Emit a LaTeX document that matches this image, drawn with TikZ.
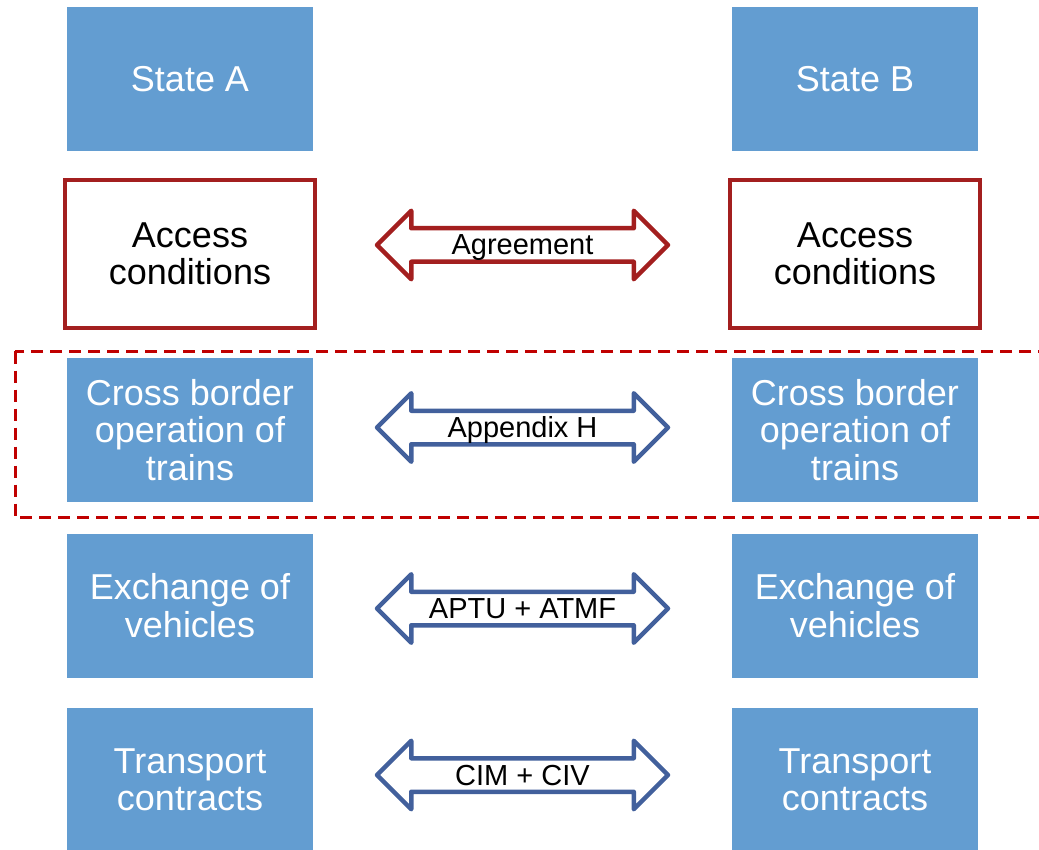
\documentclass[tikz,border=0pt]{standalone}
\usepackage{fontspec}
\setmainfont{Liberation Sans}
\usetikzlibrary{shapes.arrows}

\definecolor{boxblue}{RGB}{99,157,209}
\definecolor{boxred}{RGB}{163,31,31}
\definecolor{arrowblue}{RGB}{66,96,156}
\definecolor{dashred}{RGB}{192,0,0}

\begin{document}
\begin{tikzpicture}[x=1pt, y=-1pt,
	bluebox/.style={fill=boxblue, text=white, align=center, inner sep=0pt,
		minimum width=246pt, minimum height=144pt, font=\fontsize{36}{37.5}\selectfont},
	redbox/.style={draw=boxred, line width=4pt, fill=white, text=black, align=center, inner sep=0pt,
		minimum width=250pt, minimum height=148pt, font=\fontsize{36}{37.5}\selectfont},
	link/.style={double arrow, line width=4.5pt, line join=round, fill=white,
		minimum height=291pt, double arrow head extend=17.5pt, double arrow tip angle=90,
		inner xsep=0pt, inner ysep=0pt, text height=24.5pt, text depth=4.5pt,
		font=\fontsize{29}{30}\selectfont}
]

	\clip (0, 0) rectangle (1039, 850);
	
	\def\xa{190} % colonne gauche
	\def\xb{855} % colonne droite
	\def\xm{522.5} % milieu des fleches
	
	\foreach \s/\x in {A/\xa, B/\xb} {
		\node[bluebox] (state\s) at (\x, 79) {State \s};
		\node[redbox] (access\s) at (\x, 254) {Access\\conditions};
		\node[bluebox] (cross\s) at (\x, 430) {Cross border\\operation of\\trains};
		\node[bluebox] (exchange\s) at (\x, 605.5) {Exchange of\\vehicles};
		\node[bluebox] (transport\s) at (\x, 780) {Transport\\contracts};
	}
	
	\node[link, draw=boxred] (agreement) at (\xm, 245) {Agreement};
	\node[link, draw=arrowblue] (appendixH) at (\xm, 427.5) {Appendix H};
	\node[link, draw=arrowblue] (aptu) at (\xm, 608.5) {APTU + ATMF};
	\node[link, draw=arrowblue] (cim) at (\xm, 775) {CIM + CIV};
	
	\draw[dashred, line width=3pt, dash pattern=on 12pt off 7pt] (15, 351.5) rectangle (1060, 517.5);

\end{tikzpicture}
\end{document}
